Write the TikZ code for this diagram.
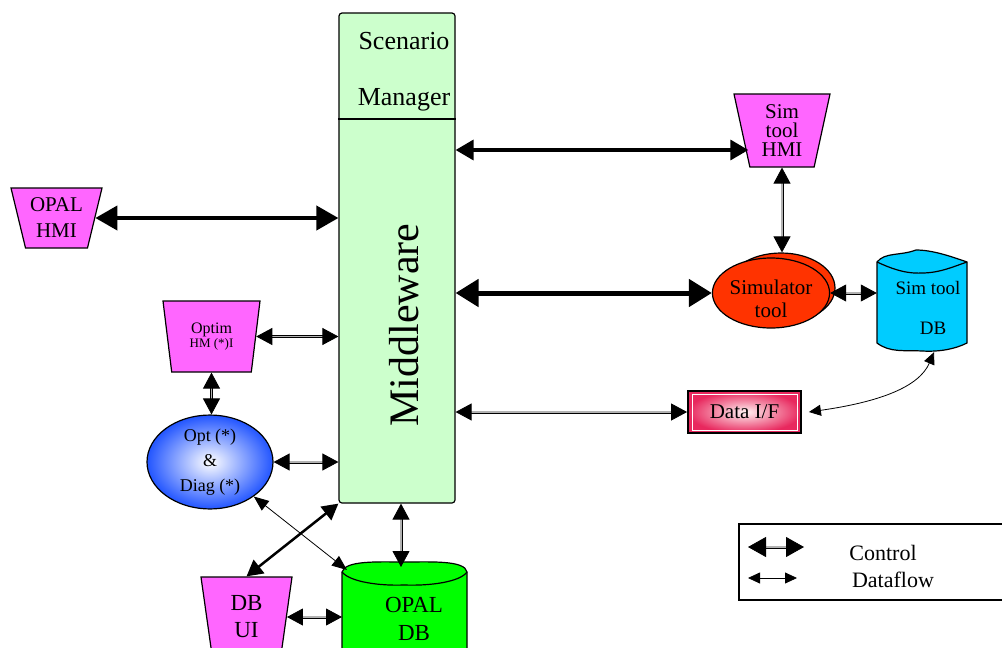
\documentclass[tikz,border=0pt]{standalone}
\usepackage{fontspec}
\setmainfont{Liberation Serif}
\usetikzlibrary{arrows.meta,shapes.geometric,positioning}

\definecolor{mwgreen}{HTML}{CCFFCC}
\definecolor{hmipink}{HTML}{FF66FF}
\definecolor{simred}{HTML}{FF3300}
\definecolor{simblue}{HTML}{00CCFF}
\definecolor{dbgreen}{HTML}{00FF00}
\definecolor{optblue}{HTML}{2255FF}
\definecolor{ifred}{HTML}{E8285E}

\tikzset{
  hmi/.style={trapezium, shape border rotate=180, trapezium stretches body, draw, line width=1.2pt, fill=hmipink, inner sep=0pt, align=center},
  ctrl/.style={line width=4pt, {Triangle[length=22pt,width=24pt]}-{Triangle[length=22pt,width=24pt]}},
  ctrlbig/.style={line width=5pt, {Triangle[length=23pt,width=27pt]}-{Triangle[length=23pt,width=27pt]}},
  ctrlmid/.style={line width=3.5pt, {Triangle[length=18pt,width=20pt]}-{Triangle[length=18pt,width=20pt]}},
  ctrlthin/.style={line width=2.5pt, {Triangle[length=16pt,width=17pt]}-{Triangle[length=16pt,width=17pt]}},
  dbl/.style={draw=black, double=white!70!black, line width=.8pt, double distance=1.4pt, {Triangle[length=16pt,width=17pt]}-{Triangle[length=16pt,width=17pt]}},
  flow/.style={line width=.8pt, {Triangle[length=12pt,width=11pt]}-{Triangle[length=12pt,width=11pt]}},
}

\begin{document}
\begin{tikzpicture}[x=1pt,y=-1pt]
  \useasboundingbox (0,0) rectangle (1002,648);
  % middleware
  \node[draw, line width=1.2pt, fill=mwgreen, rounded corners=3pt, minimum width=116pt, minimum height=490pt] (mw) at (397,258) {};
  \draw[line width=1.2pt] (mw.west |- 0,119) -- (mw.east |- 0,119);
  \node[font=\fontsize{26}{56}\selectfont, align=center] (scen) at (404,72) {Scenario\\Manager};
  \node[rotate=90, font=\fontsize{42}{42}\selectfont] (mwtext) at (404,325) {Middleware};
  % HMIs
  \node[hmi, minimum width=91pt, minimum height=60pt, trapezium angle=70, font=\fontsize{21}{26}\selectfont] (opalhmi) at (56.5,218) {OPAL\\HMI};
  \node[hmi, minimum width=97pt, minimum height=71pt, trapezium angle=72] (optim) at (211.5,336.5) {\fontsize{16}{20}\selectfont Optim\\\fontsize{13}{20}\selectfont HM (*)I};
  \node[hmi, minimum width=96pt, minimum height=73pt, trapezium angle=73, font=\fontsize{21}{19}\selectfont] (simhmi) at (782,130.5) {Sim\\tool\\HMI};
  \node[hmi, minimum width=91pt, minimum height=80pt, trapezium angle=75, font=\fontsize{23}{27}\selectfont] (dbui) at (246.5,617) {DB\\UI};
  % opt & diag
  \node[ellipse, draw, line width=1.2pt, inner color=white, outer color=optblue, minimum width=126pt, minimum height=89pt, inner sep=0pt, align=center, font=\fontsize{18}{25}\selectfont] (opt) at (210,462) {Opt (*)\\\&\\Diag (*)};
  % simulator
  \node[ellipse, draw, line width=1.2pt, fill=simred, minimum width=108pt, minimum height=70pt] (simback) at (781,288) {};
  \node[ellipse, draw, line width=1.2pt, fill=simred, minimum width=108pt, minimum height=70pt, inner sep=0pt, align=center, font=\fontsize{21}{23}\selectfont] (sim) at (771,293) {\rule{0pt}{26pt}Simulator\\tool};
  % sim tool db
  \fill[simblue] (877,262) .. controls (885,252) and (900,256) .. (916,250) .. controls (932,250) and (950,256) .. (967,262) -- (967,343) .. controls (955,349) and (940,352) .. (922,351) .. controls (905,350) and (890,353) .. (877,343) -- cycle;
  \draw[line width=1.2pt] (877,262) .. controls (885,252) and (900,256) .. (916,250) .. controls (932,250) and (950,256) .. (967,262) -- (967,343) .. controls (955,349) and (940,352) .. (922,351) .. controls (905,350) and (890,353) .. (877,343) -- cycle;
  \draw[line width=1.2pt] (877,262) .. controls (890,268) and (905,274) .. (922,273) .. controls (940,273) and (955,266) .. (967,262);
  \node[minimum width=90pt, minimum height=102pt, inner sep=0pt] (simdb) at (922,301) {};
  \node[font=\fontsize{19}{19}\selectfont] (simdbname) at (928,288) {Sim tool};
  \node[font=\fontsize{19}{19}\selectfont] (simdbdb) at (933,328) {DB};
  % data i/f
  \node[rectangle, draw, line width=1.8pt, inner color=white!80!pink, outer color=ifred, minimum width=113pt, minimum height=42pt, font=\fontsize{21}{21}\selectfont] (dataif) at (744.5,412) {Data I/F};
  \draw[white, line width=.6pt] ([shift={(5,4)}]dataif.north west) rectangle ([shift={(-5,-4)}]dataif.south east);
  % opal db
  \fill[dbgreen] (342,572) .. controls (345,560) and (380,562) .. (404,562) .. controls (430,562) and (465,560) .. (467,572) -- (467,660) -- (342,660) -- cycle;
  \draw[line width=1.2pt] (342,660) -- (342,572) .. controls (345,560) and (380,562) .. (404,562) .. controls (430,562) and (465,560) .. (467,572) -- (467,660);
  \draw[line width=1.2pt] (342,572) .. controls (350,582) and (380,586) .. (404,585) .. controls (430,586) and (460,582) .. (467,572);
  \node[align=center, font=\fontsize{23}{28}\selectfont] (opaldb) at (414,619) {OPAL\\DB};
  \coordinate (opaltop) at (401,567);
  \coordinate (opalleft) at (342,600);
  \coordinate (opalcorner) at (347,570);
  % control
  \coordinate (hmiy) at (0,150);
  \draw[ctrl] (opalhmi.east) -- (opalhmi.east -| mw.west);
  \draw[ctrlmid] (mw.east |- hmiy) -- ([xshift=7pt]simhmi.west |- hmiy);
  \draw[ctrlbig] (sim.west -| mw.east) -- (sim.west);
  \draw[ctrlthin] (dbui.north) -- (mw.south west);
  % dataflow
  \draw[dbl] (optim.east) -- (optim.east -| mw.west);
  \draw[dbl] (optim.south) -- (optim.south |- opt.north);
  \draw[dbl] (opt.east) -- (opt.east -| mw.west);
  \draw[dbl] (opaltop |- mw.south) -- (opaltop);
  \draw[dbl] (dbui.east) -- (dbui.east -| opalleft);
  \draw[dbl] (simhmi.south) -- (simhmi.south |- simback.north);
  \draw[dbl] (sim.east) -- (sim.east -| simdb.west);
  \draw[dbl] (dataif.west -| mw.east) -- (dataif.west);
  \draw[flow, {Triangle[length=15pt,width=12pt]}-{Triangle[length=15pt,width=12pt]}] (opt) -- (opalcorner);
  \draw[flow] ([xshift=7pt]dataif.east) .. controls +(70,-10) and +(-15,35) .. ([xshift=12pt]simdb.south);
  % legend
  \draw[line width=2pt] (1004,524) -- (739,524) -- (739,600) -- (1004,600);
  \coordinate (lc1) at (748,547); \coordinate (lc2) at (804,547);
  \coordinate (ld1) at (748,578); \coordinate (ld2) at (797,578);
  \draw[dbl, {Triangle[length=18pt,width=20pt]}-{Triangle[length=18pt,width=20pt]}] (lc1) -- (lc2);
  \draw[flow] (ld1) -- (ld2);
  \node[font=\fontsize{22}{22}\selectfont] (lctrl) at (883,553) {Control};
  \node[font=\fontsize{22}{22}\selectfont] (lflow) at (893,580) {Dataflow};
\end{tikzpicture}
\end{document}
